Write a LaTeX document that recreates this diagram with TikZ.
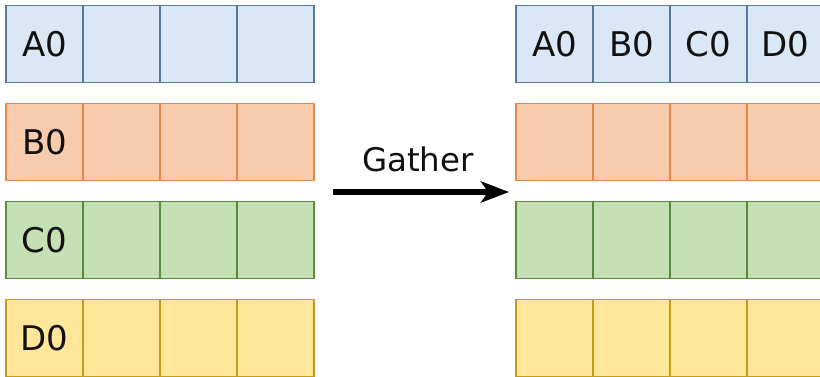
\documentclass[tikz,border=0pt]{standalone}
\usepackage{fontspec}
\setmainfont{DejaVu Sans}
\usetikzlibrary{arrows.meta}

\definecolor{bluefill}{HTML}{DAE7F5}
\definecolor{bluedraw}{HTML}{58799E}
\definecolor{orangefill}{HTML}{F8CBAD}
\definecolor{orangedraw}{HTML}{E3874E}
\definecolor{greenfill}{HTML}{C5E0B4}
\definecolor{greendraw}{HTML}{5A8A3C}
\definecolor{yellowfill}{HTML}{FFE699}
\definecolor{yellowdraw}{HTML}{C49A18}
\definecolor{ink}{HTML}{111111}

\tikzset{
  cell/.style={draw, line width=1.5pt, minimum width=77pt, minimum height=77pt,
    inner sep=0pt, outer sep=0pt, anchor=north west, text=ink,
    font=\fontsize{34}{38}\selectfont},
  row0/.style={cell, fill=bluefill, draw=bluedraw},
  row1/.style={cell, fill=orangefill, draw=orangedraw},
  row2/.style={cell, fill=greenfill, draw=greendraw},
  row3/.style={cell, fill=yellowfill, draw=yellowdraw},
  flow/.style={line width=5.5pt, draw=black,
    -{Stealth[length=28pt, width=21pt, inset=7pt]}},
  caption/.style={font=\fontsize{32.5}{36}\selectfont, text=ink, inner sep=0pt}
}

\begin{document}
\begin{tikzpicture}[x=1pt, y=-1pt]
  \useasboundingbox[fill=white] (0,0) rectangle (820,376);

  % source buffers: one value per rank, in the first slot
  \foreach \r/\lbl in {0/A0, 1/B0, 2/C0, 3/D0} {
    \foreach \c in {0,1,2,3} {
      \pgfmathsetmacro{\xx}{6+77*\c}
      \pgfmathsetmacro{\yy}{5.5+98*\r}
      \ifnum\c=0
        \node[row\r] (L\r\c) at (\xx,\yy) {\lbl};
      \else
        \node[row\r] (L\r\c) at (\xx,\yy) {};
      \fi
    }
  }

  % destination buffers after the gather
  \foreach \r in {0,1,2,3} {
    \foreach \c/\lbl in {0/A0, 1/B0, 2/C0, 3/D0} {
      \pgfmathsetmacro{\xx}{516+77*\c}
      \pgfmathsetmacro{\yy}{5.5+98*\r}
      \ifnum\r=0
        \node[row\r] (R\r\c) at (\xx,\yy) {\lbl};
      \else
        \node[row\r] (R\r\c) at (\xx,\yy) {};
      \fi
    }
  }

  % the collective operation
  \coordinate (arrowstart) at (333,192);
  \coordinate (arrowend) at (509,192);
  \draw[flow] (arrowstart) -- (arrowend);
  \node[caption, anchor=base] (gather) at (418,171.7) {Gather};
\end{tikzpicture}
\end{document}
